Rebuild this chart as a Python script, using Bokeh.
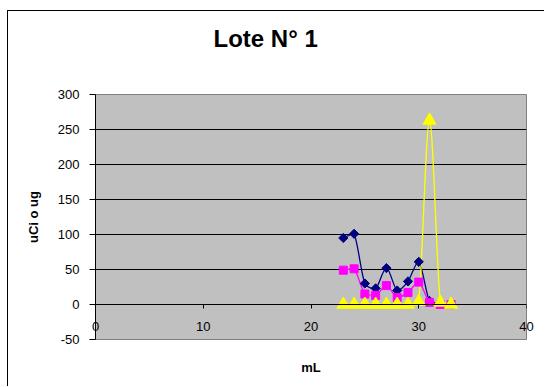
import math
from bokeh.plotting import figure
from bokeh.models import (LinearAxis, FixedTicker, Range1d, Title, ColumnDataSource)
from bokeh.embed import file_html
from bokeh.resources import INLINE

# ---- data ----
ml = [23, 24, 25, 26, 27, 28, 29, 30, 31, 32, 33]
serie_azul = [95, 101, 30, 23, 52, 20, 33, 61, 5, 1, 0]
serie_rosa = [49, 51, 15, 13, 27, 10, 17, 32, 3, 0, 0]
serie_amarilla = [0, 0, 0, 0, 0, 0, 0, 4, 263, 3, 0]

x_ticks = [0, 10, 20, 30, 40]
y_ticks = [-50, 0, 50, 100, 150, 200, 250, 300]

FONT = "Liberation Sans"

# outer chart-area border is a CSS border on the plot element
OFF_X, OFF_Y = 8, 11


def smooth_segments(xs, ys):
    """Excel-like smoothed line: cubic Bezier segments with control points
    from neighbouring points (tension 1/6), clamped to avoid overshoot."""
    n = len(xs)
    out = dict(x0=[], y0=[], x1=[], y1=[], cx0=[], cy0=[], cx1=[], cy1=[])
    for i in range(n - 1):
        xp, yp = (xs[i - 1], ys[i - 1]) if i > 0 else (xs[i], ys[i])
        xn2, yn2 = (xs[i + 2], ys[i + 2]) if i + 2 < n else (xs[i + 1], ys[i + 1])
        ax, ay = xs[i], ys[i]
        bx, by = xs[i + 1], ys[i + 1]
        c0x = ax + (bx - xp) / 6.0
        c0y = ay + (by - yp) / 6.0
        c1x = bx - (xn2 - ax) / 6.0
        c1y = by - (yn2 - ay) / 6.0
        lo, hi = min(ay, by), max(ay, by)
        c0y = min(max(c0y, lo), hi)
        c1y = min(max(c1y, lo), hi)
        out["x0"].append(ax); out["y0"].append(ay)
        out["x1"].append(bx); out["y1"].append(by)
        out["cx0"].append(c0x); out["cy0"].append(c0y)
        out["cx1"].append(c1x); out["cy1"].append(c1y)
    return ColumnDataSource(out)


p = figure(width=545 - OFF_X, height=387 - OFF_Y, output_backend="svg",
           toolbar_location=None,
           x_range=Range1d(0, 40), y_range=Range1d(-50, 300),
           x_axis_location=None,
           min_border_left=95 - OFF_X, min_border_right=19, min_border_top=94 - OFF_Y,
           min_border_bottom=48)
p.styles = {"margin-left": "7px", "margin-top": "10px",
            "border-left": "1px solid black", "border-top": "1px solid black"}

p.background_fill_color = "#C0C0C0"
p.border_fill_color = "white"
p.outline_line_color = "#808080"
p.outline_line_width = 1

# y axis
yax = p.yaxis[0]
yax.ticker = FixedTicker(ticks=y_ticks)
yax.major_label_overrides = {-50: "-50"}
yax.minor_tick_line_color = None
yax.major_tick_in = 0
yax.major_tick_out = 6
yax.axis_line_color = "black"
yax.major_tick_line_color = "black"
yax.major_label_text_font = FONT
yax.major_label_text_font_size = "13px"
yax.major_label_text_color = "black"
yax.major_label_standoff = 10
yax.axis_label = "uCi o ug"
yax.axis_label_text_font = FONT
yax.axis_label_text_font_style = "bold"
yax.axis_label_text_font_size = "13px"
yax.axis_label_text_color = "black"
yax.axis_label_standoff = 14

# x axis line and ticks crossing at y = 0 (labels drawn by the axis below)
xax = LinearAxis(fixed_location=0, ticker=FixedTicker(ticks=x_ticks))
xax.minor_tick_line_color = None
xax.major_tick_in = 0
xax.major_tick_out = 4
xax.axis_line_color = "black"
xax.major_tick_line_color = "black"
xax.major_label_text_color = None
p.add_layout(xax, "below")

# x tick labels (unclipped), pulled up to sit just under the zero line
xlab = LinearAxis(ticker=FixedTicker(ticks=x_ticks))
xlab.axis_line_color = None
xlab.major_tick_line_color = None
xlab.minor_tick_line_color = None
xlab.major_tick_in = 0
xlab.major_tick_out = 0
xlab.major_label_standoff = -18
xlab.major_label_text_font = FONT
xlab.major_label_text_font_size = "13px"
xlab.major_label_text_color = "black"
p.add_layout(xlab, "below")

# grid
p.xgrid.visible = False
p.ygrid.ticker = FixedTicker(ticks=y_ticks)
p.ygrid.grid_line_color = "black"
p.ygrid.grid_line_width = 1

# titles (an empty spacer title keeps the real one higher above the frame)
p.add_layout(Title(text=" ", text_font_size="1px", standoff=38), "above")
t = Title(text="Lote N° 1", align="left", text_font=FONT, text_font_style="bold",
          text_font_size="24px", text_color="black", standoff=4, offset=118)
p.add_layout(t, "above")

p.add_layout(Title(text=" ", text_font_size="1px", standoff=13), "below")
xl = Title(text="mL", align="center", text_font=FONT, text_font_style="bold",
           text_font_size="13px", text_color="black", standoff=4)
p.add_layout(xl, "below")

series = [
    (serie_azul, "#000080", "square", 6.5, math.pi / 4),
    (serie_rosa, "#FF00FF", "square", 8, 0),
    (serie_amarilla, "#FFFF00", "triangle", 13, 0),
]
for ys, col, marker, size, ang in series:
    seg = smooth_segments(ml, ys)
    p.bezier(x0="x0", y0="y0", x1="x1", y1="y1", cx0="cx0", cy0="cy0",
             cx1="cx1", cy1="cy1", source=seg, line_color=col, line_width=1.3)

for ys, col, marker, size, ang in series:
    p.scatter(ml, ys, marker=marker, size=size, angle=ang,
              fill_color=col, line_color=col)

open("out.html", "w").write(file_html(p, INLINE))
